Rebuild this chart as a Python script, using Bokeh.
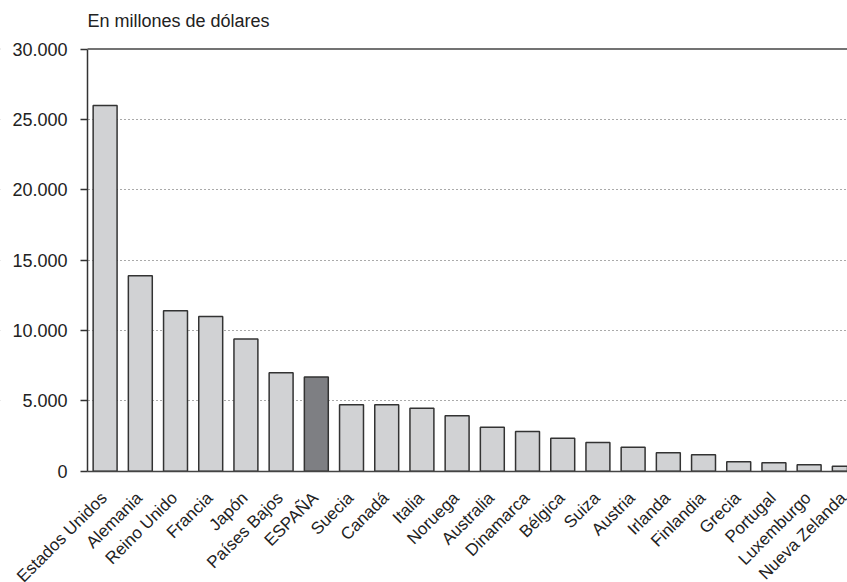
import math
from bokeh.plotting import figure
from bokeh.models import Range1d, FixedTicker, ColumnDataSource, Span, BoxAnnotation
from bokeh.core.properties import value
from bokeh.embed import file_html
from bokeh.resources import INLINE

countries = ["Estados Unidos", "Alemania", "Reino Unido", "Francia", "Japón",
             "Países Bajos", "ESPAÑA", "Suecia", "Canadá", "Italia", "Noruega",
             "Australia", "Dinamarca", "Bélgica", "Suiza", "Austria", "Irlanda",
             "Finlandia", "Grecia", "Portugal", "Luxemburgo", "Nueva Zelanda"]
values = [26000, 13900, 11400, 11000, 9400, 7000, 6700, 4730, 4720, 4480, 3940,
          3130, 2820, 2350, 2040, 1710, 1310, 1170, 670, 600, 450, 360]
highlight = "ESPAÑA"
y_ticks = [0, 5000, 10000, 15000, 20000, 25000, 30000]
y_tick_labels = ["0", "5.000", "10.000", "15.000", "20.000", "25.000", "30.000"]
grid_values = [5000, 10000, 15000, 20000, 25000]
title_text = "En millones de dólares"

FONT = "Liberation Sans"
X_LEFT, X_START, X_END = -2.972, -0.5, 21.09

xs = list(range(len(countries)))
colors = ["#7e7f83" if c == highlight else "#d1d2d4" for c in countries]
src = ColumnDataSource(dict(x=xs, top=values, color=colors, name=countries,
                            base=[0] * len(xs)))

# The frame covers (almost) the whole canvas so that the rotated country
# names can run below/left of the axes and get cut at the edges, as in the original.
p = figure(width=847, height=582,
           x_range=Range1d(X_LEFT, X_END), y_range=Range1d(-7910, 30753),
           output_backend="svg", toolbar_location=None,
           min_border_left=0, min_border_right=0,
           min_border_top=38, min_border_bottom=0,
           title=title_text)

p.xgrid.grid_line_color = None
p.ygrid.ticker = FixedTicker(ticks=grid_values)
p.ygrid.grid_line_color = "#555555"
p.ygrid.grid_line_dash = "1 3"
p.ygrid.grid_line_width = 1

# solid top line at 30.000
p.add_layout(Span(location=30000, dimension="width", line_color="#444444",
                  line_width=1.5, level="underlay"))
# blank out grid/top line to the left of the value axis
p.add_layout(BoxAnnotation(left=X_LEFT - 1, right=X_START, fill_color="white",
                           fill_alpha=1.0, line_color=None, line_width=0,
                           level="underlay"))

p.vbar(x="x", top="top", bottom=0, width=0.68, fill_color="color",
       line_color="#333333", line_width=1.5, source=src)

p.text(x="x", y="base", text="name", source=src, angle=math.pi / 4,
       text_align="right", text_baseline="alphabetic",
       x_offset=-1, y_offset=24,
       text_font=value(FONT), text_font_size="17px", text_color="#222222")

p.title.text_font = FONT
p.title.text_font_size = "18px"
p.title.text_font_style = "normal"
p.title.text_color = "#222222"
p.title.align = "left"
p.title.offset = 87
p.title.standoff = 15

p.yaxis.fixed_location = X_START
p.yaxis.ticker = FixedTicker(ticks=y_ticks)
p.yaxis.bounds = (0, 30000)
p.yaxis.major_label_overrides = {t: l for t, l in zip(y_ticks, y_tick_labels)}
p.yaxis.axis_line_color = "#333333"
p.yaxis.axis_line_width = 1.5
p.yaxis.major_tick_line_color = "#333333"
p.yaxis.major_tick_line_width = 1.5
p.yaxis.major_tick_in = 0
p.yaxis.major_tick_out = 7
p.yaxis.minor_tick_line_color = None
p.yaxis.major_label_standoff = 13
p.yaxis.major_label_text_font = FONT
p.yaxis.major_label_text_font_size = "18px"
p.yaxis.major_label_text_color = "#222222"

p.xaxis.fixed_location = 0
p.xaxis.bounds = (X_START, X_END)
p.xaxis.ticker = FixedTicker(ticks=[])
p.xaxis.axis_line_color = "#444444"
p.xaxis.axis_line_width = 1.5
p.xaxis.major_tick_line_color = None
p.xaxis.minor_tick_line_color = None
p.xaxis.major_label_text_font_size = "0px"

p.outline_line_color = None
p.background_fill_color = "white"
p.border_fill_color = "white"

open("out.html", "w").write(file_html(p, INLINE))
